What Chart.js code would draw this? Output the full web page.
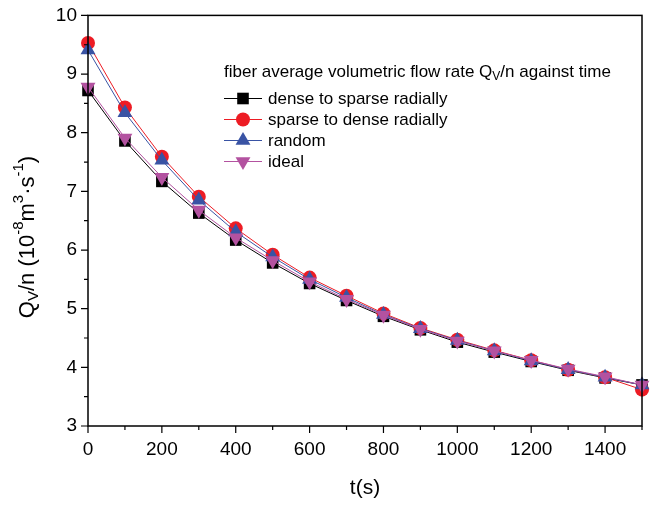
<!DOCTYPE html>
<html>
<head>
<meta charset="utf-8">
<script src="https://cdn.jsdelivr.net/npm/chart.js@4.4.1/dist/chart.umd.min.js"></script>
<style>
    html, body { margin: 0; padding: 0; background: #fff; }
    #wrap { width: 654px; height: 505px; }
</style>
</head>
<body>
<div id="wrap"><canvas id="canvas1" width="654" height="505"></canvas></div>
<script>
    // 데이터
    const aTime = [0, 100, 200, 300, 400, 500, 600, 700, 800, 900, 1000, 1100, 1200, 1300, 1400, 1500];
    const aDenseToSparse = [8.72, 7.86, 7.17, 6.63, 6.17, 5.78, 5.43, 5.14, 4.87, 4.64, 4.43, 4.26, 4.10, 3.95, 3.82, 3.70];
    const aSparseToDense = [9.53, 8.43, 7.59, 6.91, 6.37, 5.92, 5.53, 5.22, 4.92, 4.67, 4.47, 4.29, 4.12, 3.96, 3.83, 3.62];
    const aRandom = [9.41, 8.34, 7.53, 6.85, 6.31, 5.88, 5.50, 5.19, 4.90, 4.66, 4.46, 4.28, 4.11, 3.96, 3.83, 3.70];
    const aIdeal = [8.78, 7.91, 7.24, 6.68, 6.21, 5.82, 5.46, 5.16, 4.89, 4.65, 4.45, 4.28, 4.12, 3.97, 3.84, 3.70];
    const aSeriesLabel = ["dense to sparse radially", "sparse to dense radially", "random", "ideal"];
    const aXTickLabel = [0, 200, 400, 600, 800, 1000, 1200, 1400];
    const aYTickLabel = [3, 4, 5, 6, 7, 8, 9, 10];

    const sFont = "'Liberation Sans', Arial, sans-serif";
    const aColor = ["#000000", "#ed1c24", "#3953a4", "#b352a0"];
    const aStyle = ["rect", "circle", "triangle", "triangle"];
    const aRotation = [0, 0, 0, 180];
    const aRadius = [8.2, 7, 8.6, 8.6];

    const toPoints = (aValues) => aTime.map((t, i) => ({ x: t, y: aValues[i] }));

    const aDatasets = [aDenseToSparse, aSparseToDense, aRandom, aIdeal].map(function (aValues, i) {
        return {
            label: aSeriesLabel[i],
            data: toPoints(aValues),
            borderColor: aColor[i],
            backgroundColor: aColor[i],
            borderWidth: 1,
            pointStyle: aStyle[i],
            rotation: aRotation[i],
            pointRadius: aRadius[i],
            pointBorderWidth: 0,
            pointBackgroundColor: aColor[i],
            order: 3 - i,
            clip: false,
            tension: 0
        };
    });

    // 텍스트 조각 그리기 (아래첨자/위첨자)
    function drawRich(ctx, aParts, x, y, iSize) {
        let iX = x;
        aParts.forEach(function (oPart) {
            let iFs = oPart.t ? Math.round(iSize * 0.7) : iSize;
            let iDy = oPart.t === "sub" ? iSize * 0.28 : (oPart.t === "sup" ? -iSize * 0.42 : 0);
            ctx.font = iFs + "px " + sFont;
            ctx.fillText(oPart.s, iX, y + iDy);
            iX += ctx.measureText(oPart.s).width;
        });
        return iX - x;
    }
    function measureRich(ctx, aParts, iSize) {
        let w = 0;
        aParts.forEach(function (oPart) {
            let iFs = oPart.t ? Math.round(iSize * 0.7) : iSize;
            ctx.font = iFs + "px " + sFont;
            w += ctx.measureText(oPart.s).width;
        });
        return w;
    }

    const oFramePlugin = {
        id: "frame",
        afterDraw: function (chart) {
            const ctx = chart.ctx;
            const a = chart.chartArea;
            const oX = chart.scales.x, oY = chart.scales.y;
            ctx.save();
            ctx.strokeStyle = "#000";
            ctx.lineWidth = 1.5;
            ctx.strokeRect(a.left, a.top, a.right - a.left, a.bottom - a.top);

            // 눈금
            ctx.lineWidth = 1.2;
            ctx.beginPath();
            for (let v = 0; v <= 1500; v += 100) {
                let px = oX.getPixelForValue(v);
                let len = aXTickLabel.includes(v) ? 7 : 4;
                ctx.moveTo(px, a.bottom);
                ctx.lineTo(px, a.bottom + len);
            }
            for (let v = 3; v <= 10.001; v += 0.5) {
                let py = oY.getPixelForValue(v);
                let len = aYTickLabel.includes(v) ? 7 : 4;
                ctx.moveTo(a.left, py);
                ctx.lineTo(a.left - len, py);
            }
            ctx.stroke();

            ctx.fillStyle = "#000";
            ctx.textBaseline = "middle";
            ctx.textAlign = "left";

            // x축 제목
            ctx.font = "21px " + sFont;
            ctx.textAlign = "center";
            ctx.fillText("t(s)", (a.left + a.right) / 2, 488);
            ctx.textAlign = "left";

            // y축 제목
            const aYTitle = [
                { s: "Q" }, { s: "V", t: "sub" }, { s: "/n (10" }, { s: "-8", t: "sup" },
                { s: "m" }, { s: "3", t: "sup" }, { s: "·s" }, { s: "-1", t: "sup" }, { s: ")" }
            ];
            let wY = measureRich(ctx, aYTitle, 22);
            ctx.save();
            ctx.translate(28, 237);
            ctx.rotate(-Math.PI / 2);
            drawRich(ctx, aYTitle, -wY / 2, 0, 22);
            ctx.restore();

            // 범례
            const iLx = 224, iLs = 262;
            drawRich(ctx, [{ s: "fiber average volumetric flow rate Q" }, { s: "V", t: "sub" }, { s: "/n against time" }], iLx, 72, 17);
            const aLy = [98.5, 119.5, 140.5, 161.5];
            aSeriesLabel.forEach(function (sLabel, i) {
                let y = aLy[i];
                ctx.strokeStyle = aColor[i];
                ctx.lineWidth = 1;
                ctx.beginPath();
                ctx.moveTo(iLx, y);
                ctx.lineTo(iLs, y);
                ctx.stroke();
                ctx.fillStyle = aColor[i];
                Chart.helpers.drawPoint(ctx, { pointStyle: aStyle[i], rotation: aRotation[i], radius: aRadius[i], borderWidth: 0 }, (iLx + iLs) / 2, y);
                ctx.fillStyle = "#000";
                ctx.font = "17px " + sFont;
                ctx.fillText(sLabel, 268, y + 1);
            });
            ctx.restore();
        }
    };

    const ctx1 = document.getElementById("canvas1").getContext("2d");
    const oMyChart = new Chart(ctx1, {
        type: "line",
        data: { datasets: aDatasets },
        plugins: [oFramePlugin],
        options: {
            responsive: false,
            animation: false,
            devicePixelRatio: 1,
            layout: { padding: { left: 0, top: 15, right: 12, bottom: 0 } },
            plugins: { legend: { display: false }, tooltip: { enabled: false } },
            scales: {
                x: {
                    type: "linear",
                    min: 0,
                    max: 1500,
                    afterFit: function (scale) { scale.height = 79; },
                    grid: { display: true, drawOnChartArea: false, drawTicks: true, tickLength: 7, color: "rgba(0,0,0,0)" },
                    border: { display: false },
                    ticks: {
                        stepSize: 100,
                        autoSkip: false,
                        maxRotation: 0,
                        padding: 5,
                        color: "#000",
                        font: { family: sFont, size: 19 },
                        callback: function (v) { return aXTickLabel.includes(v) ? String(v) : ""; }
                    }
                },
                y: {
                    min: 3,
                    max: 10,
                    afterFit: function (scale) { scale.width = 88; },
                    grid: { display: true, drawOnChartArea: false, drawTicks: true, tickLength: 7, color: "rgba(0,0,0,0)" },
                    border: { display: false },
                    ticks: {
                        stepSize: 0.5,
                        autoSkip: false,
                        padding: 4,
                        color: "#000",
                        font: { family: sFont, size: 19 },
                        callback: function (v) { return aYTickLabel.includes(v) ? String(v) : ""; }
                    }
                }
            }
        }
    });
</script>
</body>
</html>
